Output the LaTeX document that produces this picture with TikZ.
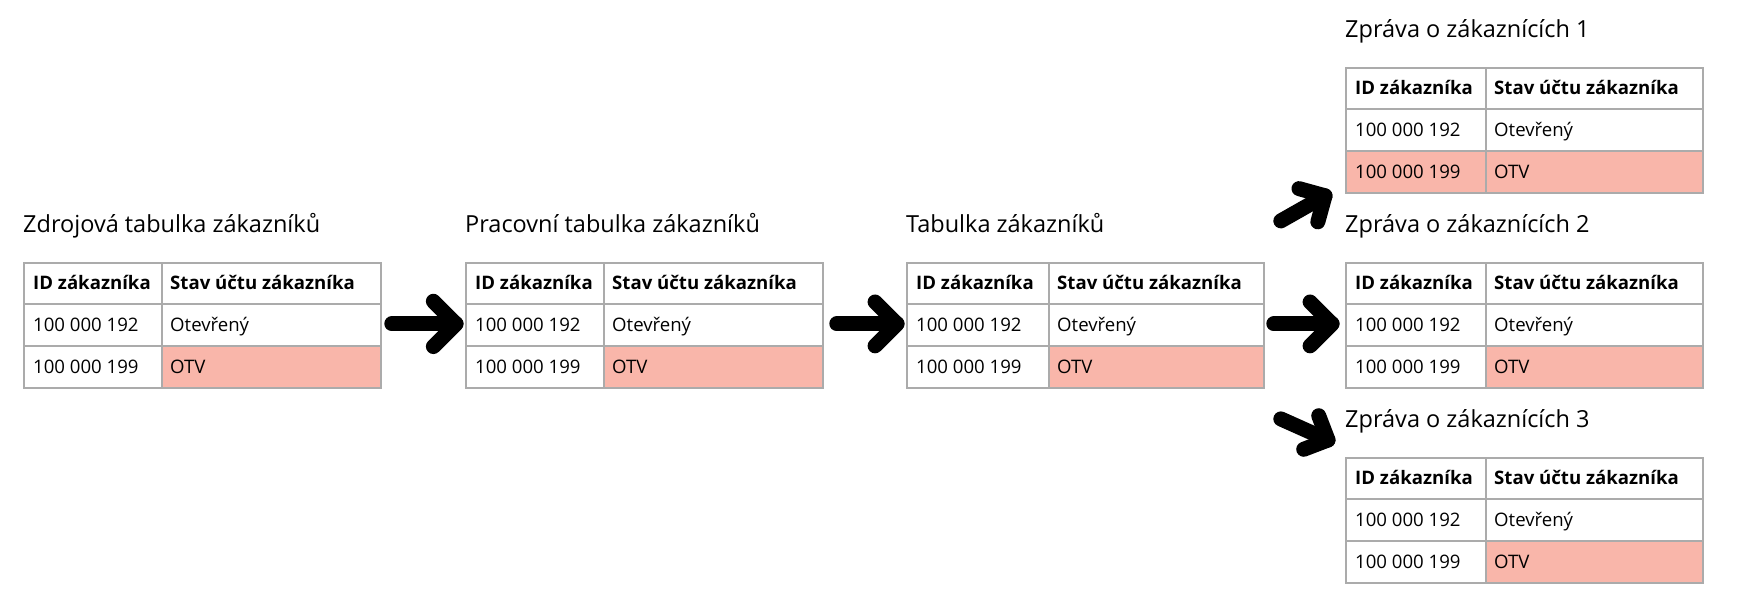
\documentclass[tikz,border=0pt]{standalone}
\usepackage{fontspec}
\setmainfont{Open Sans}
\usetikzlibrary{calc}
\definecolor{tblgray}{HTML}{ABABAB}
\definecolor{pinkc}{HTML}{F9B6AA}
\tikzset{
  cellbox/.style={draw=tblgray, line width=1.8pt, anchor=north west, inner sep=0pt, fill=white},
  celltxt/.style={anchor=base west, inner sep=0pt, font=\fontsize{18.6}{22}\selectfont},
  hdrtxt/.style={anchor=base west, inner sep=0pt, font=\fontsize{18.6}{22}\selectfont\bfseries},
  ttl/.style={anchor=base west, inner sep=0pt, font=\fontsize{23.5}{28}\selectfont},
  fat/.style={line width=15pt, line cap=round, line join=round, draw=black},
}
% #1 name, #2 x, #3 y top, #4 first column width, #5 fill of first cell in last row, #6 title
\newcommand\ztab[6]{%
  \node[ttl] (#1-t) at (#2,#3-30) {#6};
  \node[cellbox, minimum width=#4, minimum height=41] (#1-h1) at (#2,#3) {};
  \node[cellbox, minimum width=357-#4, minimum height=41] (#1-h2) at (#2+#4,#3) {};
  \node[cellbox, minimum width=#4, minimum height=42] (#1-a1) at (#2,#3+41) {};
  \node[cellbox, minimum width=357-#4, minimum height=42] (#1-b1) at (#2+#4,#3+41) {};
  \node[cellbox, fill=#5, minimum width=#4, minimum height=42] (#1-a2) at (#2,#3+83) {};
  \node[cellbox, fill=pinkc, minimum width=357-#4, minimum height=42] (#1-b2) at (#2+#4,#3+83) {};
  \node[hdrtxt] (#1-h1t) at ($(#1-h1.west)+(10,6.5)$) {ID zákazníka};
  \node[hdrtxt] (#1-h2t) at ($(#1-h2.west)+(9,6.5)$) {Stav účtu zákazníka};
  \node[celltxt] (#1-a1t) at ($(#1-a1.west)+(10,6.5)$) {100 000 192};
  \node[celltxt] (#1-b1t) at ($(#1-b1.west)+(9,6.5)$) {Otevřený};
  \node[celltxt] (#1-a2t) at ($(#1-a2.west)+(10,6.5)$) {100 000 199};
  \node[celltxt] (#1-b2t) at ($(#1-b2.west)+(9,6.5)$) {OTV};
}
% #1 start, #2 end, #3 arm length
\newcommand\fatarrow[3]{%
  \draw[fat] (#1) -- (#2);
  \draw[fat] ($(#2)!#3!45:(#1)$) -- (#2) -- ($(#2)!#3!-45:(#1)$);
}
\begin{document}
\begin{tikzpicture}[x=1pt,y=-1pt]
  \fill[white] (0,0) rectangle (1747,608);
  \useasboundingbox (0,0) rectangle (1747,608);

  \ztab{t1}{23}{262}{138}{white}{Zdrojová tabulka zákazníků}
  \ztab{t2}{465}{262}{138}{white}{Pracovní tabulka zákazníků}
  \ztab{t3}{906}{262}{142}{white}{Tabulka zákazníků}
  \ztab{r1}{1345}{67}{140}{pinkc}{Zpráva o zákaznících 1}
  \ztab{r2}{1345}{262}{140}{white}{Zpráva o zákaznících 2}
  \ztab{r3}{1345}{457}{140}{white}{Zpráva o zákaznících 3}

  \coordinate (a1s) at ($(t1-b1.east)+(10,-1)$);
  \coordinate (a1e) at ($(t2-a1.west)+(-9,-1)$);
  \coordinate (a2s) at ($(t2-b1.east)+(13,-1)$);
  \coordinate (a2e) at ($(t3-a1.west)+(-9,-1)$);
  \coordinate (a3s) at ($(t3-b1.east)+(9,-1)$);
  \coordinate (a3e) at ($(r2-a1.west)+(-13,-1)$);
  \coordinate (a4s) at ($(t3-b1.east)+(16,-104)$);
  \coordinate (a4e) at ($(r1-a2.south west)+(-20,2)$);
  \coordinate (a5s) at ($(t3-b1.east)+(16,94)$);
  \coordinate (a5e) at ($(r3-h1.north west)+(-17,-17)$);

  \fatarrow{a1s}{a1e}{32pt}
  \fatarrow{a2s}{a2e}{31pt}
  \fatarrow{a3s}{a3e}{31pt}
  \fatarrow{a4s}{a4e}{27pt}
  \fatarrow{a5s}{a5e}{26pt}
\end{tikzpicture}
\end{document}
